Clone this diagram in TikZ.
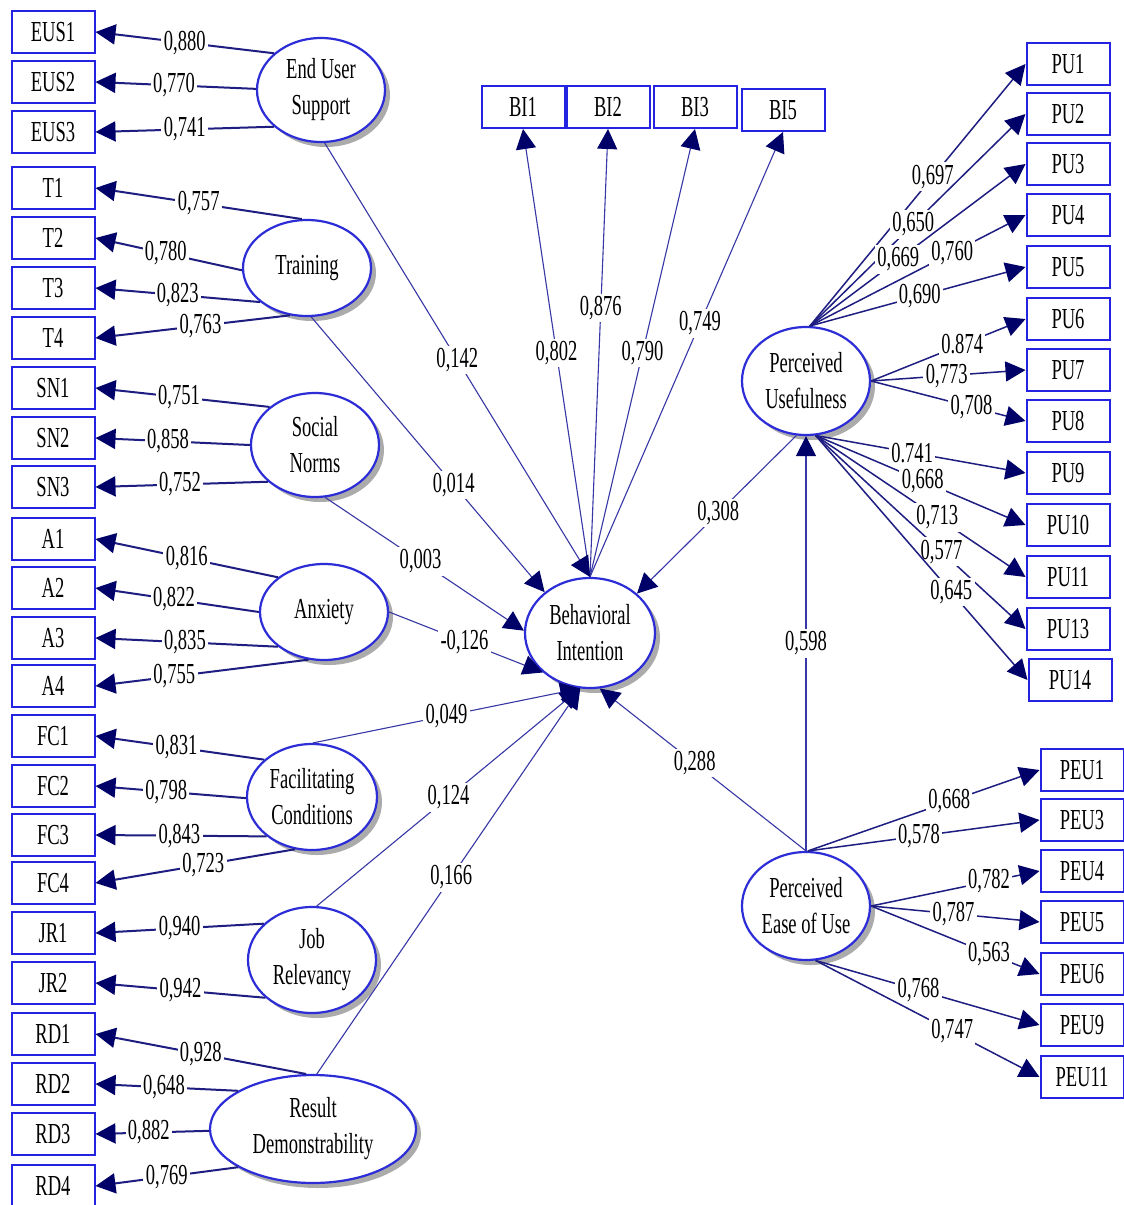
\documentclass[tikz,border=0pt]{standalone}
\usepackage{fontspec}
\setmainfont{Liberation Serif}[FakeStretch=0.64]
\usetikzlibrary{arrows.meta,shapes.geometric,shadows}

\definecolor{boxblue}{RGB}{35,35,225}
\definecolor{ellblue}{RGB}{45,45,215}
\definecolor{navy}{RGB}{0,0,105}
\definecolor{linkblue}{RGB}{30,30,130}
\definecolor{pathblue}{RGB}{55,55,165}

\begin{document}
\begin{tikzpicture}[x=0.5pt,y=-0.5pt,
  every node/.style={font=\fontsize{14.5}{18}\selectfont},
  ind/.style={rectangle,draw=boxblue,line width=1pt,fill=white,
    minimum width=41.5pt,minimum height=21pt,inner sep=0pt},
  lat/.style={ellipse,draw=ellblue,line width=1.1pt,fill=white,align=center,
    inner sep=0pt,drop shadow={shadow xshift=2.5pt,shadow yshift=-2.5pt,
    opacity=0.55,fill=black!60}},
  hd/.style={-{Triangle[length=10pt,width=10pt,color=navy]}},
  ldg/.style={draw=linkblue,line width=1pt,hd},
  fanline/.style={draw=linkblue,line width=0.75pt,hd},
  struct/.style={draw=pathblue,line width=0.55pt,hd},
  lbl/.style={fill=white,inner sep=1.2pt}
]
\useasboundingbox[fill=white] (0,0) rectangle (1124,1205);

% ---------- indicator boxes, left column ----------
\foreach \n/\t/\y in {eus1/EUS1/32,eus2/EUS2/82,eus3/EUS3/132,
  t1/T1/188,t2/T2/238,t3/T3/288,t4/T4/338,
  sn1/SN1/388,sn2/SN2/438,sn3/SN3/487,
  a1/A1/539,a2/A2/588,a3/A3/638,a4/A4/686,
  fc1/FC1/736,fc2/FC2/786,fc3/FC3/835,fc4/FC4/883,
  jr1/JR1/933,jr2/JR2/983,
  rd1/RD1/1034,rd2/RD2/1084,rd3/RD3/1134,rd4/RD4/1186}
  \node[ind] (\n) at (53,\y) {\t};

% ---------- indicator boxes, top row ----------
\node[ind] (bi1) at (523,107) {BI1};
\node[ind] (bi2) at (608,107) {BI2};
\node[ind] (bi3) at (695,107) {BI3};
\node[ind] (bi5) at (783,110) {BI5};

% ---------- indicator boxes, right column ----------
\foreach \n/\t/\y in {pu1/PU1/64,pu2/PU2/114,pu3/PU3/164,pu4/PU4/215,
  pu5/PU5/267,pu6/PU6/319,pu7/PU7/370,pu8/PU8/421,pu9/PU9/473,
  pu10/PU10/525,pu11/PU11/577,pu13/PU13/629}
  \node[ind] (\n) at (1068,\y) {\t};
\node[ind] (pu14) at (1070,680) {PU14};
\foreach \n/\t/\y in {peu1/PEU1/770,peu3/PEU3/820,peu4/PEU4/871,
  peu5/PEU5/922,peu6/PEU6/974,peu9/PEU9/1025,peu11/PEU11/1077}
  \node[ind] (\n) at (1082,\y) {\t};

% ---------- latent variables ----------
\node[lat,minimum width=64pt,minimum height=52pt] (eus) at (321,90) {End User\\Support};
\node[lat,minimum width=64pt,minimum height=48pt] (tr) at (307,268) {Training};
\node[lat,minimum width=64pt,minimum height=52pt] (sn) at (315,445) {Social\\Norms};
\node[lat,minimum width=64pt,minimum height=48pt] (ax) at (324,612) {Anxiety};
\node[lat,minimum width=65pt,minimum height=53pt] (fc) at (312,797) {Facilitating\\Conditions};
\node[lat,minimum width=64pt,minimum height=53pt] (jr) at (312,960) {Job\\Relevancy};
\node[lat,minimum width=103pt,minimum height=54pt] (rd) at (313,1129) {Result\\Demonstrability};
\node[lat,minimum width=65pt,minimum height=55pt] (bi) at (590,633) {Behavioral\\Intention};
\node[lat,minimum width=64pt,minimum height=54pt] (pu) at (806,381) {Perceived\\Usefulness};
\node[lat,minimum width=64pt,minimum height=54pt] (peu) at (806,906) {Perceived\\Ease of Use};

% ---------- outer loadings, left constructs ----------
\foreach \s/\e/\v/\p in {eus.142/eus1/{0,880}/0.50, eus.179/eus2/{0,770}/0.51,
  eus.218/eus3/{0,741}/0.50,
  tr.96/t1/{0,757}/0.50, tr.182/t2/{0,780}/0.52, tr.216/t3/{0,823}/0.50,
  tr.250/t4/{0,763}/0.46,
  sn.140/sn1/{0,751}/0.52, sn.180/sn2/{0,858}/0.53, sn.218/sn3/{0,752}/0.51,
  ax.143/a1/{0,816}/0.50, ax.180/a2/{0,822}/0.52, ax.217/a3/{0,835}/0.51,
  ax.252/a4/{0,755}/0.63,
  fc.142/fc1/{0,831}/0.52, fc.181/fc2/{0,798}/0.53, fc.221/fc3/{0,843}/0.51,
  fc.252/fc4/{0,723}/0.46,
  jr.143/jr1/{0,940}/0.50, jr.219/jr2/{0,942}/0.50,
  rd.97/rd1/{0,928}/0.50, rd.153/rd2/{0,648}/0.52, rd.181/rd3/{0,882}/0.53,
  rd.207/rd4/{0,769}/0.50}
  \draw[ldg] (\s) -- node[lbl,pos=\p] {\v} (\e.east);

% ---------- outer loadings, Behavioral Intention ----------
\draw[struct] (bi.north) -- node[lbl,pos=0.50] {0,802} (bi1.south);
\draw[struct] (bi.north) -- node[lbl,pos=0.60] {0,876} (bi2.south);
\draw[struct] (bi.north) -- node[lbl,pos=0.50] {0,790} (bi3.south);
\draw[struct] (bi.north) -- node[lbl,pos=0.57] {0,749} (bi5.south);

% ---------- outer loadings, Perceived Usefulness ----------
\foreach \s/\e/\v/\p in {pu.86/pu1/{0,697}/0.57, pu.86/pu2/{0,650}/0.48,
  pu.86/pu3/{0,669}/0.41, pu.86/pu4/{0,760}/0.66, pu.86/pu5/{0,690}/0.51,
  pu.east/pu6/{0.874}/0.59, pu.east/pu7/{0,773}/0.49, pu.east/pu8/{0,708}/0.65,
  pu.280/pu9/{0.741}/0.46, pu.280/pu10/{0,668}/0.51, pu.280/pu11/{0,713}/0.58,
  pu.280/pu13/{0,577}/0.60, pu.280/pu14/{0,645}/0.64}
  \draw[fanline] (\s) -- node[lbl,pos=\p] {\v} (\e.west);

% ---------- outer loadings, Perceived Ease of Use ----------
\foreach \s/\e/\v/\p in {peu.88/peu1/{0,668}/0.61, peu.88/peu3/{0,578}/0.48,
  peu.east/peu4/{0,782}/0.70, peu.east/peu5/{0,787}/0.49,
  peu.east/peu6/{0,563}/0.70,
  peu.280/peu9/{0,768}/0.46, peu.280/peu11/{0,747}/0.61}
  \draw[fanline] (\s) -- node[lbl,pos=\p] {\v} (\e.west);

% ---------- structural paths ----------
\draw[struct] (eus.274) -- node[lbl,pos=0.50] {0,142} (bi.north);
\draw[struct] (tr.275) -- node[lbl,pos=0.61] {0,014} (bi.138);
\draw[struct] (sn.281) -- node[lbl,pos=0.48] {0,003} (bi.178);
\draw[struct] (ax.east) -- node[lbl,pos=0.49] {-0,126} (bi.220);
\draw[struct] (fc.89) -- node[lbl,pos=0.50] {0,049} (bi.260);
\draw[struct] (jr.85) -- node[lbl,pos=0.50] {0,124} (bi.260);
\draw[struct] (rd.86) -- node[lbl,pos=0.51] {0,166} (bi.260);
\draw[struct] (pu.260) -- node[lbl,pos=0.49] {0,308} (bi.40);
\draw[struct] (peu.north) -- node[lbl,pos=0.50] {0,598} (pu.south);
\draw[struct] (peu.north) -- node[lbl,pos=0.54] {0,288} (bi.280);
\end{tikzpicture}
\end{document}
